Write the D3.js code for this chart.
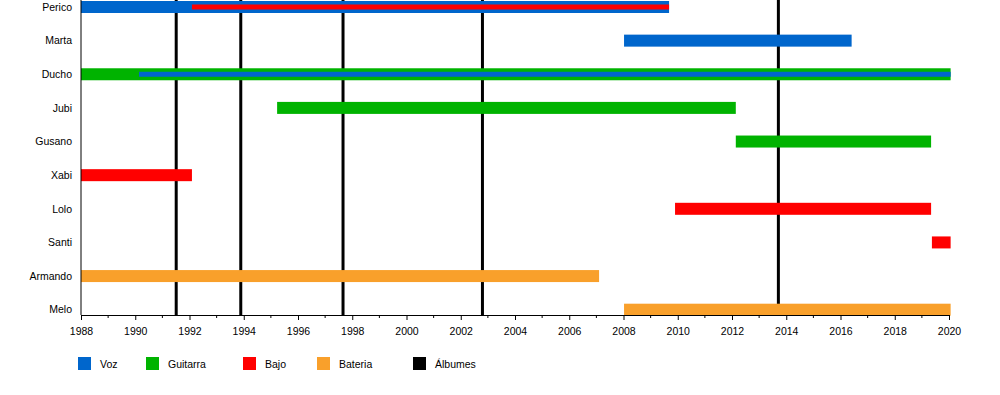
<!DOCTYPE html>
<html>
<head>
<meta charset="utf-8">
<script src="https://cdn.jsdelivr.net/npm/d3@7"></script>
<style>
  body { margin: 0; background: #fff; }
  text { font-family: "Liberation Sans", Arial, sans-serif; font-size: 10.5px; fill: #000; }
</style>
</head>
<body>
<div id="chart"></div>
<script>
// setting up constants
const FRAME_WIDTH = 1000;
const FRAME_HEIGHT = 395;

// band members, top to bottom
const members = ["Perico", "Marta", "Ducho", "Jubi", "Gusano", "Xabi", "Lolo", "Santi", "Armando", "Melo"];

// roles and their colours (legend order)
const roles = ["Voz", "Guitarra", "Bajo", "Bateria", "Álbumes"];
const roleColors = ["#0066cc", "#00b300", "#ff0000", "#f9a02b", "#000000"];

// main bars: member, role, from, to
const mainBars = [
    ["Perico", "Voz", 1988, 2009.68],
    ["Marta", "Voz", 2008.02, 2016.41],
    ["Ducho", "Guitarra", 1988, 2020.06],
    ["Jubi", "Guitarra", 1995.23, 2012.14],
    ["Gusano", "Guitarra", 2012.14, 2019.34],
    ["Xabi", "Bajo", 1988, 1992.09],
    ["Lolo", "Bajo", 2009.9, 2019.34],
    ["Santi", "Bajo", 2019.37, 2020.06],
    ["Armando", "Bateria", 1988, 2007.1],
    ["Melo", "Bateria", 2008.02, 2020.06]
];

// secondary (thin) bars: member, role, from, to
const thinBars = [
    ["Perico", "Bajo", 1992.09, 2009.68],
    ["Ducho", "Voz", 1990.14, 2020.06]
];

// album release dates
const albums = [1991.51, 1993.89, 1997.66, 2002.8, 2013.71];

// axis ticks
const majorTicks = d3.range(1988, 2021, 2);
const minorTicks = d3.range(1988, 2021, 1);

const svg = d3.select("#chart")
    .append("svg")
        .attr("width", FRAME_WIDTH)
        .attr("height", FRAME_HEIGHT);

const xScale = d3.scaleLinear()
    .domain([1988, 2020])
    .range([81, 949]);

const yScale = d3.scalePoint()
    .domain(members)
    .range([7, 309.7]);

const color = d3.scaleOrdinal()
    .domain(roles)
    .range(roleColors);

const AXIS_Y = 315;

// album lines (behind bars)
svg.append("g")
    .selectAll("line")
    .data(albums)
    .enter()
    .append("line")
        .attr("x1", d => xScale(d))
        .attr("x2", d => xScale(d))
        .attr("y1", 0)
        .attr("y2", AXIS_Y)
        .attr("stroke", color("Álbumes"))
        .attr("stroke-width", 3);

// main bars
svg.append("g")
    .selectAll("rect")
    .data(mainBars)
    .enter()
    .append("rect")
        .attr("x", d => xScale(d[2]))
        .attr("y", d => yScale(d[0]) - 6)
        .attr("width", d => xScale(d[3]) - xScale(d[2]))
        .attr("height", 12)
        .attr("fill", d => color(d[1]));

// thin bars on top
svg.append("g")
    .selectAll("rect")
    .data(thinBars)
    .enter()
    .append("rect")
        .attr("x", d => xScale(d[2]))
        .attr("y", d => yScale(d[0]) - 2.5)
        .attr("width", d => xScale(d[3]) - xScale(d[2]))
        .attr("height", 5)
        .attr("fill", d => color(d[1]));

// member labels
svg.append("g")
    .selectAll("text")
    .data(members)
    .enter()
    .append("text")
        .attr("x", 72)
        .attr("y", d => yScale(d) + 3.7)
        .attr("text-anchor", "end")
        .text(d => d);

// left axis line
svg.append("line")
    .attr("x1", 81).attr("x2", 81)
    .attr("y1", 0).attr("y2", AXIS_Y)
    .attr("stroke", "#000");

// bottom axis with major labels
const xAxis = svg.append("g")
    .attr("transform", "translate(0," + AXIS_Y + ")")
    .call(d3.axisBottom(xScale)
        .tickValues(majorTicks)
        .tickFormat(d3.format("d"))
        .tickSize(5)
        .tickSizeOuter(0)
        .tickPadding(8));
xAxis.select(".domain").attr("stroke", "#000");
xAxis.selectAll("text").style("font-size", "10.5px").attr("font-family", null);

// minor ticks
svg.append("g")
    .attr("transform", "translate(0," + AXIS_Y + ")")
    .selectAll("line")
    .data(minorTicks.filter(d => d % 2 !== 0))
    .enter()
    .append("line")
        .attr("x1", d => xScale(d))
        .attr("x2", d => xScale(d))
        .attr("y1", 0)
        .attr("y2", 3)
        .attr("stroke", "#000");

// legend
const legendX = [78, 146, 243, 317, 413];
const legend = svg.append("g")
    .selectAll("g")
    .data(roles)
    .enter()
    .append("g")
        .attr("transform", (d, i) => "translate(" + legendX[i] + ",357)");
legend.append("rect")
    .attr("width", 13)
    .attr("height", 13)
    .attr("fill", d => color(d));
legend.append("text")
    .attr("x", 22)
    .attr("y", 11)
    .text(d => d);
</script>
</body>
</html>
